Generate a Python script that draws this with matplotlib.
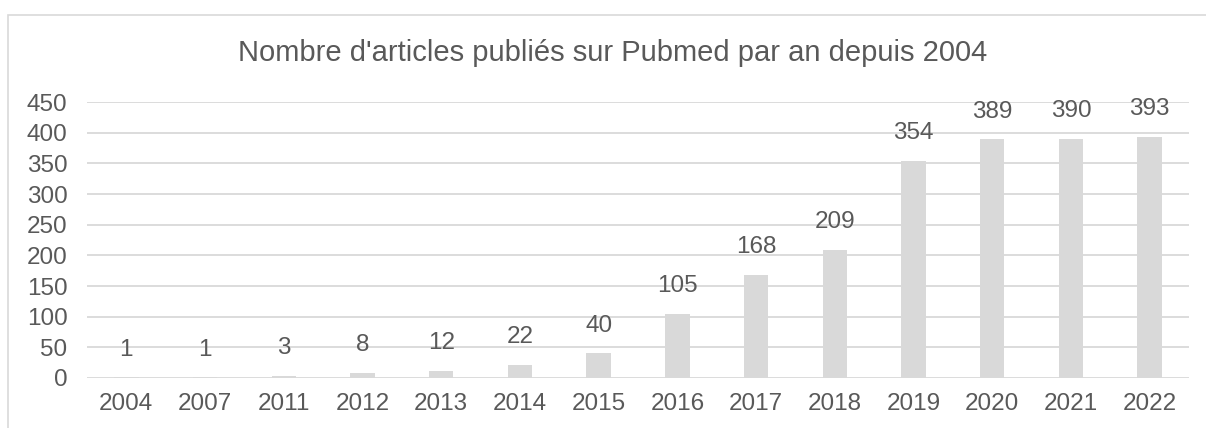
import matplotlib.pyplot as plt
from matplotlib.patches import Rectangle

plt.rcParams['font.family'] = ['Liberation Sans', 'DejaVu Sans']

years = ['2004', '2007', '2011', '2012', '2013', '2014', '2015',
         '2016', '2017', '2018', '2019', '2020', '2021', '2022']
counts = [1, 1, 3, 8, 12, 22, 40, 105, 168, 209, 354, 389, 390, 393]
yticks = [0, 50, 100, 150, 200, 250, 300, 350, 400, 450]

W, H = 1206, 428
text_col = '#595959'
grid_col = '#D9D9D9'

fig = plt.figure(figsize=(W / 100, H / 100), dpi=100)

# chart frame (cut off at right and bottom, as in the screenshot)
fig.patches.append(Rectangle((8 / W, -0.1), 1.2, 1 - 15 / H + 0.1,
                             transform=fig.transFigure, fill=False,
                             edgecolor=grid_col, linewidth=1.2))

ax = fig.add_axes([87 / W, 1 - 378 / H, (1189 - 87) / W, (378 - 102) / H])
x = list(range(len(years)))
ax.bar(x, counts, width=0.31, color='#D9D9D9', zorder=2)

for xi, v in zip(x, counts):
    ax.annotate(str(v), (xi, v), xytext=(0, 12), textcoords='offset points',
                ha='center', va='bottom', fontsize=17.5, color=text_col)

ax.set_xlim(-0.5, len(years) - 0.5)
ax.set_ylim(0, 450)
ax.set_xticks(x)
ax.set_xticklabels(years)
ax.set_yticks(yticks)
ax.tick_params(length=0, labelsize=17.5, labelcolor=text_col)
ax.tick_params(axis='x', pad=11)
ax.tick_params(axis='y', pad=14)
ax.grid(axis='y', color=grid_col, linewidth=1.3, zorder=0)
ax.set_axisbelow(True)
for s in ax.spines.values():
    s.set_visible(False)

fig.text(613 / W, 1 - 53 / H, "Nombre d'articles publiés sur Pubmed par an depuis 2004",
         ha='center', va='center', fontsize=21, color=text_col)

fig.savefig('out.png', dpi=100)
